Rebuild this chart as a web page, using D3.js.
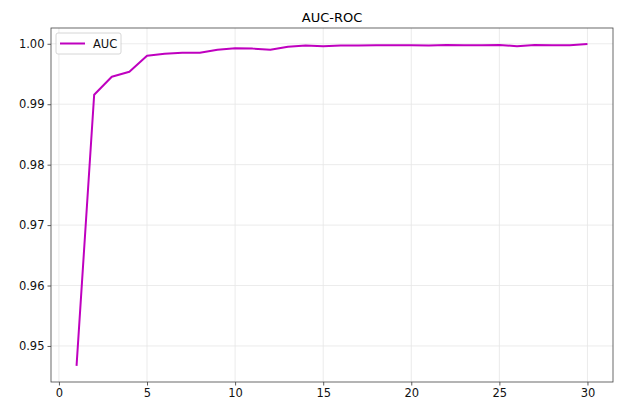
<!DOCTYPE html>
<html lang="en">
<head>
    <meta charset="UTF-8">
    <title>AUC-ROC</title>
    <script src="https://d3js.org/d3.v7.min.js"></script>
    <style>
        body { margin: 0; background: white; }
        text { font-family: "DejaVu Sans", sans-serif; }
        .grid line { stroke: #e6e6e6; stroke-width: 0.8; }
    </style>
</head>
<body>
<script>
    const width = 617;
    const height = 402;
    const margin = {top: 28, right: 4, bottom: 20, left: 51};

    const epochs = d3.range(1, 31);
    const auc = [0.9467, 0.99156, 0.99454, 0.99536, 0.99801, 0.99834, 0.9985, 0.9985, 0.9990, 0.99925,
                 0.9992, 0.9990, 0.9995, 0.9997, 0.9996, 0.9997, 0.9997, 0.99975, 0.99975, 0.99975,
                 0.9997, 0.9998, 0.99975, 0.99975, 0.9998, 0.9996, 0.99978, 0.99975, 0.99975, 0.99995];
    const xTicks = [0, 5, 10, 15, 20, 25, 30];
    const yTicks = [0.95, 0.96, 0.97, 0.98, 0.99, 1.00];

    const svg = d3.select("body").append("svg")
            .attr("width", width).attr("height", height);

    const xPad = (30 - 1) * 0.05;
    const x = d3.scaleLinear()
            .domain([1 - xPad, 30 + xPad])
            .range([margin.left, width - margin.right]);
    const yMin = d3.min(auc), yMax = d3.max(auc);
    const yPad = (yMax - yMin) * 0.05;
    const y = d3.scaleLinear()
            .domain([yMin - yPad, yMax + yPad])
            .range([height - margin.bottom, margin.top]);

    // grid
    svg.append("g").attr("class", "grid")
            .selectAll("line.vx").data(xTicks).enter()
            .append("line")
            .attr("x1", d => x(d)).attr("x2", d => x(d))
            .attr("y1", margin.top).attr("y2", height - margin.bottom);
    svg.append("g").attr("class", "grid")
            .selectAll("line.hy").data(yTicks).enter()
            .append("line")
            .attr("y1", d => y(d)).attr("y2", d => y(d))
            .attr("x1", margin.left).attr("x2", width - margin.right);

    // line
    const line = d3.line().x((d, i) => x(epochs[i])).y(d => y(d));
    svg.append("path")
            .datum(auc)
            .attr("fill", "none")
            .attr("stroke", "#bf00bf")
            .attr("stroke-width", 2)
            .attr("stroke-linejoin", "round")
            .attr("d", line);

    // axes
    const xAxis = svg.append("g")
            .attr("transform", `translate(0,${height - margin.bottom})`)
            .call(d3.axisBottom(x).tickValues(xTicks).tickFormat(d3.format("d")).tickSize(3.5).tickPadding(3));
    const yAxis = svg.append("g")
            .attr("transform", `translate(${margin.left},0)`)
            .call(d3.axisLeft(y).tickValues(yTicks).tickFormat(d3.format(".2f")).tickSize(3.5).tickPadding(3));
    [xAxis, yAxis].forEach(g => {
        g.select(".domain").remove();
        g.selectAll("line").attr("stroke", "#333").attr("stroke-width", 0.8);
        g.selectAll("text").attr("font-size", 11.5).attr("fill", "#111")
                .attr("font-family", "DejaVu Sans, sans-serif");
    });

    // frame
    svg.append("rect")
            .attr("x", margin.left).attr("y", margin.top)
            .attr("width", width - margin.left - margin.right)
            .attr("height", height - margin.top - margin.bottom)
            .attr("fill", "none").attr("stroke", "#444").attr("stroke-width", 0.8);

    // title
    svg.append("text")
            .attr("x", (margin.left + width - margin.right) / 2)
            .attr("y", margin.top - 6.5)
            .attr("text-anchor", "middle")
            .attr("font-size", 13)
            .attr("fill", "#000")
            .text("AUC-ROC");

    // legend
    const lg = svg.append("g").attr("transform", `translate(${margin.left + 5},${margin.top + 5})`);
    lg.append("rect").attr("width", 65).attr("height", 21).attr("rx", 2)
            .attr("fill", "white").attr("fill-opacity", 0.8)
            .attr("stroke", "#ccc").attr("stroke-width", 0.8);
    lg.append("line").attr("x1", 4).attr("x2", 29).attr("y1", 10.5).attr("y2", 10.5)
            .attr("stroke", "#bf00bf").attr("stroke-width", 2);
    lg.append("text").attr("x", 37).attr("y", 15).attr("font-size", 11.5).attr("fill", "#111").text("AUC");
</script>
</body>
</html>
